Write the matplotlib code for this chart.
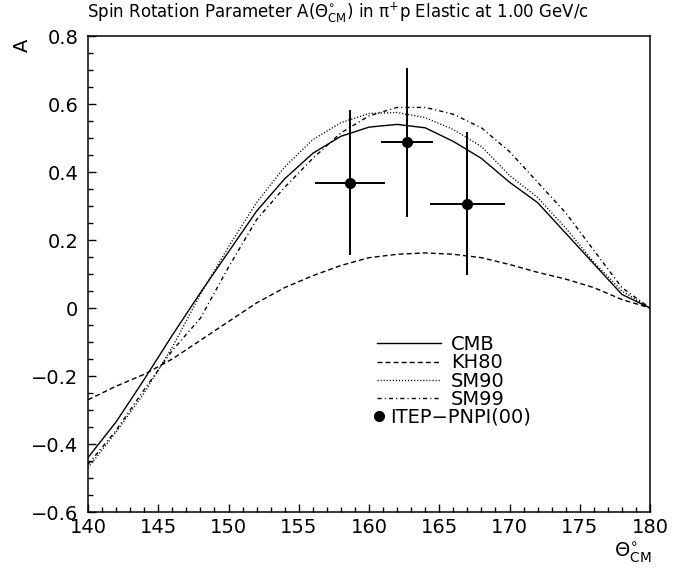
import numpy as np
import matplotlib
matplotlib.use("Agg")
import matplotlib.pyplot as plt
from matplotlib.lines import Line2D

plt.rcParams['font.family'] = ['DejaVu Sans']
plt.rcParams['mathtext.fontset'] = 'dejavusans'

# model curves
theta = [140, 142, 144, 146, 148, 150, 152, 154, 156, 158, 160,
         162, 164, 166, 168, 170, 172, 174, 176, 178, 180]
cmb = [-0.44, -0.335, -0.21, -0.08, 0.045, 0.165, 0.285, 0.38, 0.455, 0.505, 0.532,
       0.54, 0.53, 0.49, 0.44, 0.37, 0.31, 0.22, 0.13, 0.04, 0.0]
kh80 = [-0.27, -0.23, -0.195, -0.15, -0.095, -0.04, 0.015, 0.06, 0.095, 0.125, 0.148,
        0.158, 0.162, 0.158, 0.148, 0.128, 0.105, 0.085, 0.06, 0.025, 0.0]
sm90 = [-0.47, -0.365, -0.25, -0.115, 0.04, 0.18, 0.31, 0.415, 0.495, 0.545, 0.572,
        0.575, 0.56, 0.525, 0.475, 0.39, 0.325, 0.235, 0.135, 0.05, 0.0]
sm99 = [-0.46, -0.36, -0.24, -0.125, -0.03, 0.12, 0.26, 0.355, 0.44, 0.515, 0.565,
        0.59, 0.59, 0.57, 0.53, 0.46, 0.37, 0.28, 0.17, 0.06, 0.0]

# ITEP-PNPI(00) data
exp_theta = [158.65, 162.7, 167.0]
exp_a = [0.369, 0.487, 0.307]
exp_dtheta = [2.5, 1.85, 2.65]
exp_da = [0.214, 0.22, 0.21]

fig = plt.figure(figsize=(6.96, 5.70), dpi=100)
ax = fig.add_axes([88/696, 1-512/570, (650-88)/696, (512-36)/570])

l1, = ax.plot(theta, cmb, color='black', lw=1.0, ls='-', label='CMB')
l2, = ax.plot(theta, kh80, color='black', lw=1.0, ls=(0, (3.6, 2.2)), label='KH80')
l3, = ax.plot(theta, sm90, color='black', lw=1.0, ls=(0, (0.8, 1.4)), label='SM90')
l4, = ax.plot(theta, sm99, color='black', lw=1.0, ls=(0, (3.0, 2.2, 0.8, 2.2)), label='SM99')
ax.errorbar(exp_theta, exp_a, xerr=exp_dtheta, yerr=exp_da, fmt='o', color='black',
            ms=7, elinewidth=1.4, capsize=0)

ax.set_xlim(140, 180)
ax.set_ylim(-0.6, 0.8)
ax.set_xticks(np.arange(140, 181, 5))
ax.set_xticks(np.arange(140, 181, 1), minor=True)
ax.set_yticks(np.arange(-0.6, 0.81, 0.2))
ax.set_yticks(np.arange(-0.6, 0.81, 0.05), minor=True)
ax.set_yticklabels(['\u22120.6', '\u22120.4', '\u22120.2', '0', '0.2', '0.4', '0.6', '0.8'])
ax.tick_params(which='both', direction='in', top=False, right=False, labelsize=14)
ax.tick_params(which='major', length=6, width=1.0)
ax.tick_params(which='minor', length=3.5, width=1.0)
ax.tick_params(axis='x', pad=4)
ax.tick_params(axis='y', pad=7)
for s in ax.spines.values():
    s.set_linewidth(1.1)

leg = ax.legend(handles=[l1, l2, l3, l4], loc='upper left', bbox_to_anchor=(0.514, 0.372),
                frameon=False, fontsize=14, handlelength=3.3, handletextpad=0.5,
                labelspacing=-0.03, borderaxespad=0, borderpad=0)
ax.add_artist(leg)
dot = Line2D([], [], ls='none', marker='o', ms=7, color='black')
ax.legend(handles=[dot], labels=['ITEP\u2212PNPI(00)'], loc='upper left',
          bbox_to_anchor=(0.507, 0.219), frameon=False, fontsize=14,
          handlelength=0.6, handletextpad=0.3, borderaxespad=0, borderpad=0)

fig.text(338/696, 1-13/570,
         'Spin Rotation Parameter A($\\Theta^{\\circ}_{\\rm CM}$) in \u03c0$^{+}$p Elastic at 1.00 GeV/c',
         ha='center', va='center', fontsize=12)
fig.text(22/696, 1-45/570, 'A', rotation=90, ha='center', va='center', fontsize=14)
fig.text(651/696, 1-553/570, r'$\Theta^{\circ}_{\rm CM}$', ha='right', va='center', fontsize=14)

fig.savefig('out.png', dpi=100)
